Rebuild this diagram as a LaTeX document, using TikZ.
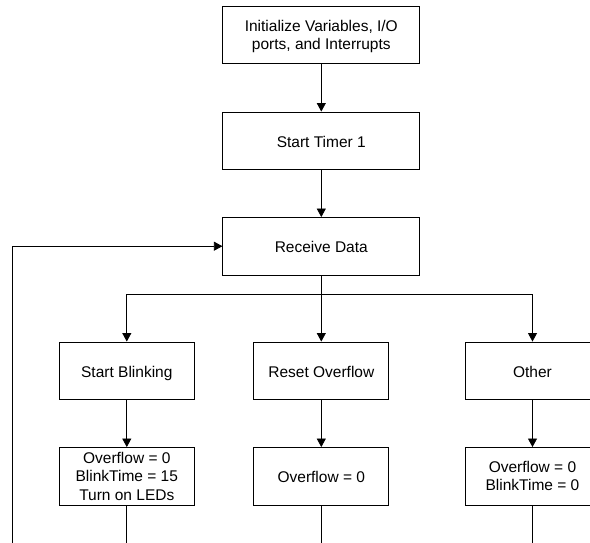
\documentclass[tikz,border=0pt]{standalone}
\usepackage{fontspec}
\setmainfont{Liberation Sans}
\usetikzlibrary{arrows.meta}
\begin{document}
\begin{tikzpicture}[x=1pt,y=-1pt,
  box/.style={draw,line width=0.8pt,minimum width=197pt,minimum height=57.5pt,align=center,inner sep=0pt,
    font=\fontsize{15.5}{18.5}\selectfont},
  sbox/.style={box,minimum width=135pt},
  oneline/.style={text height=13pt,text depth=0pt},
  conn/.style={line width=0.8pt},
  arr/.style={conn,-{Triangle[width=9pt,length=8.5pt]}}]
\useasboundingbox (0,0) rectangle (590,542);
\clip (0,0) rectangle (590,542);
\node[box,text depth=0pt] (init) at (321.3,35) {Initialize Variables, I/O\\ports, and Interrupts};
\node[box,oneline] (timer) at (321.3,140.7) {Start Timer 1};
\node[box,oneline] (recv) at (321.3,246.2) {Receive Data};
\node[sbox,oneline] (sb) at (126.8,370.7) {Start Blinking};
\node[sbox,oneline] (ro) at (321.3,370.7) {Reset Overflow};
\node[sbox,oneline] (ot) at (532.5,370.7) {Other};
\node[sbox] (sba) at (126.8,476.2) {Overflow = 0\\BlinkTime = 15\\Turn on LEDs};
\node[sbox,oneline] (roa) at (321.3,476.2) {Overflow = 0};
\node[sbox] (ota) at (532.5,476.2) {Overflow = 0\\BlinkTime = 0};
\coordinate (bj) at (321.3,294.3);
\coordinate (e1) at (126.8,550);
\coordinate (e2) at (321.3,550);
\coordinate (e3) at (532.5,550);
\coordinate (lp) at (12,550);
\draw[arr] (init) -- (timer);
\draw[arr] (timer) -- (recv);
\draw[conn] (recv) -- (bj);
\draw[arr] (bj) -| (sb.north);
\draw[arr] (bj) -- (ro.north);
\draw[arr] (bj) -| (ot.north);
\draw[arr] (sb) -- (sba);
\draw[arr] (ro) -- (roa);
\draw[arr] (ot) -- (ota);
\draw[conn] (sba) -- (e1);
\draw[conn] (roa) -- (e2);
\draw[conn] (ota) -- (e3);
\draw[arr] (lp) |- (recv.west);
\end{tikzpicture}
\end{document}
